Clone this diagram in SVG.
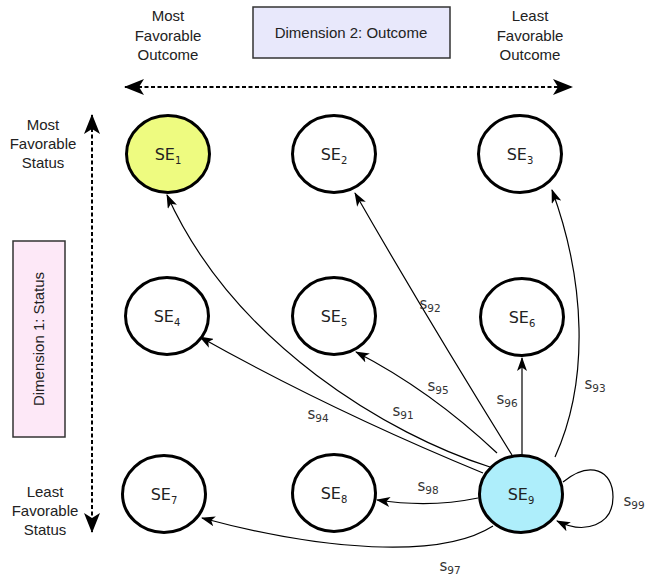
<svg xmlns="http://www.w3.org/2000/svg" width="646" height="576" viewBox="0 0 646 576">
<style>
.hdr{font-family:"Liberation Sans",Arial,sans-serif;font-size:15px;fill:#222;text-anchor:middle}
.node ellipse{stroke:#000;stroke-width:3;fill:#fff}
.node text{font-family:"DejaVu Sans",Verdana,sans-serif;font-size:16px;fill:#222;text-anchor:middle}
.sub{font-size:10px}
.lsub{font-size:10.5px}
.edge{fill:none;stroke:#000;stroke-width:1.2;marker-end:url(#arr)}
.lbl{font-family:"DejaVu Sans",Verdana,sans-serif;font-size:15px;fill:#333;text-anchor:middle}
.axis{fill:none;stroke:#000;stroke-width:2;stroke-dasharray:4 2.5;marker-start:url(#big);marker-end:url(#big)}
</style>
<defs>
<marker id="arr" markerUnits="userSpaceOnUse" viewBox="0 0 14 10" refX="13" refY="5" markerWidth="14" markerHeight="10" orient="auto">
<path d="M0,0 L14,5 L0,10 L3.5,5 z" fill="#000"/>
</marker>
<marker id="big" markerUnits="userSpaceOnUse" viewBox="0 0 20 16" refX="19" refY="8" markerWidth="20" markerHeight="16" orient="auto-start-reverse">
<path d="M0,0 L20,8 L0,16 L5,8 z" fill="#000"/>
</marker>
</defs>

<g id="dim2">
<rect x="253" y="7" width="197" height="51" fill="#e8e8fb" stroke="#333" stroke-width="1.5"/>
<text class="hdr" x="351" y="38">Dimension 2: Outcome</text>
</g>
<g id="dim1">
<rect x="13" y="241" width="52" height="196" fill="#fde8f7" stroke="#333" stroke-width="1.5"/>
<text class="hdr" x="0" y="0" transform="translate(44,339) rotate(-90)">Dimension 1: Status</text>
</g>
<g id="most-outcome">
<text class="hdr" x="168" y="21">Most</text>
<text class="hdr" x="168" y="41">Favorable</text>
<text class="hdr" x="168" y="60">Outcome</text>
</g>
<g id="least-outcome">
<text class="hdr" x="530" y="21">Least</text>
<text class="hdr" x="530" y="41">Favorable</text>
<text class="hdr" x="530" y="60">Outcome</text>
</g>
<g id="most-status">
<text class="hdr" x="43" y="130">Most</text>
<text class="hdr" x="43" y="149">Favorable</text>
<text class="hdr" x="43" y="168">Status</text>
</g>
<g id="least-status">
<text class="hdr" x="45" y="497">Least</text>
<text class="hdr" x="45" y="516">Favorable</text>
<text class="hdr" x="45" y="535">Status</text>
</g>

<g id="axes">
<path class="axis" d="M125,87 L572,87"/>
<path class="axis" d="M92,115 L92,532"/>
</g>

<g id="connectors">
<path class="edge" d="M490,467 C390,435 235,345 167,195"/>
<path class="edge" d="M512,455 Q425,315 355,193"/>
<path class="edge" d="M555,457 C590,380 585,280 552,190"/>
<path class="edge" d="M483,473 Q330,410 200,337"/>
<path class="edge" d="M497,453 Q430,390 356,352"/>
<path class="edge" d="M522,455 L522,358"/>
<path class="edge" d="M493,526 C440,560 320,550 202,518"/>
<path class="edge" d="M478,498 Q430,508 377,500"/>
<path class="edge" d="M563,482 C590,460 613,470 613,497 C613,525 585,535 557,521"/>
<text class="lbl" x="430" y="309">s<tspan class="lsub" dy="3">92</tspan></text>
<text class="lbl" x="438" y="391">s<tspan class="lsub" dy="3">95</tspan></text>
<text class="lbl" x="403" y="416">s<tspan class="lsub" dy="3">91</tspan></text>
<text class="lbl" x="318" y="419">s<tspan class="lsub" dy="3">94</tspan></text>
<text class="lbl" x="507" y="404">s<tspan class="lsub" dy="3">96</tspan></text>
<text class="lbl" x="595" y="389">s<tspan class="lsub" dy="3">93</tspan></text>
<text class="lbl" x="428" y="491">s<tspan class="lsub" dy="3">98</tspan></text>
<text class="lbl" x="450" y="571">s<tspan class="lsub" dy="3">97</tspan></text>
<text class="lbl" x="634" y="506">s<tspan class="lsub" dy="3">99</tspan></text>
</g>

<g id="SE1" class="node"><ellipse cx="168" cy="154" rx="41.5" ry="38.5" style="fill:#eefb80"/><text x="168" y="160">SE<tspan class="sub" dy="4">1</tspan></text></g>
<g id="SE2" class="node"><ellipse cx="334" cy="154" rx="41.5" ry="38.5"/><text x="334" y="160">SE<tspan class="sub" dy="4">2</tspan></text></g>
<g id="SE3" class="node"><ellipse cx="520" cy="154" rx="41.5" ry="38.5"/><text x="520" y="160">SE<tspan class="sub" dy="4">3</tspan></text></g>
<g id="SE4" class="node"><ellipse cx="167" cy="316" rx="41.5" ry="38.5"/><text x="167" y="322">SE<tspan class="sub" dy="4">4</tspan></text></g>
<g id="SE5" class="node"><ellipse cx="334" cy="316" rx="41.5" ry="38.5"/><text x="334" y="322">SE<tspan class="sub" dy="4">5</tspan></text></g>
<g id="SE6" class="node"><ellipse cx="522" cy="317" rx="41.5" ry="38.5"/><text x="522" y="323">SE<tspan class="sub" dy="4">6</tspan></text></g>
<g id="SE7" class="node"><ellipse cx="164" cy="494" rx="41.5" ry="38.5"/><text x="164" y="500">SE<tspan class="sub" dy="4">7</tspan></text></g>
<g id="SE8" class="node"><ellipse cx="334" cy="493" rx="41.5" ry="38.5"/><text x="334" y="499">SE<tspan class="sub" dy="4">8</tspan></text></g>
<g id="SE9" class="node"><ellipse cx="521" cy="494" rx="41.5" ry="38.5" style="fill:#aeeefb"/><text x="521" y="500">SE<tspan class="sub" dy="4">9</tspan></text></g>
</svg>
